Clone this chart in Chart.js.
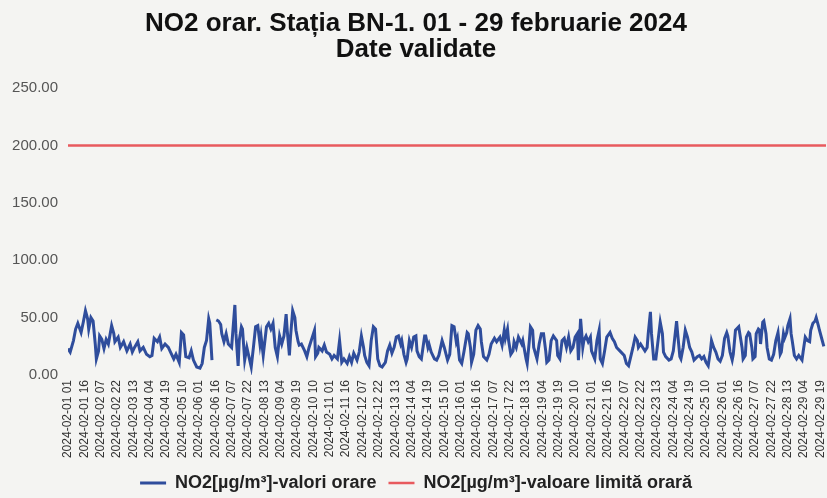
<!DOCTYPE html>
<html>
<head>
<meta charset="utf-8">
<script src="https://cdn.jsdelivr.net/npm/chart.js@4.4.1/dist/chart.umd.min.js"></script>
<style>
  body { margin: 0; background: #f4f4f2; }
  canvas { display: block; }
</style>
</head>
<body>
<canvas id="no2" width="827" height="498"></canvas>
<script>
// hours counted from 2024-02-01 01 (index 0), one step = 1 hour
const hours = [
  0, 2, 5, 7, 9, 12, 14, 16, 18, 19, 21, 23, 25, 26, 28, 29, 31, 33, 35, 37,
  40, 42, 43, 46, 48, 51, 54, 57, 59, 61, 64, 66, 69, 72, 75, 77, 79, 82, 84, 86,
  89, 92, 94, 97, 99, 102, 104, 106, 108, 111, 113, 115, 118, 121, 123, 125, 127, 129, 130, 132,
  133, 136, 138, 140, 141, 143, 145, 147, 150, 153, 154, 156, 157, 159, 160, 162, 164, 168, 170, 172,
  174, 176, 177, 179, 182, 184, 186, 188, 190, 192, 194, 196, 198, 200, 201, 203, 204, 206, 208, 209,
  211, 212, 214, 217, 219, 221, 224, 226, 227, 229, 230, 233, 235, 237, 240, 242, 244, 247, 249, 251,
  253, 256, 258, 260, 262, 265, 267, 269, 271, 272, 274, 276, 278, 280, 282, 283, 284, 286, 288, 291,
  293, 295, 297, 299, 301, 303, 305, 306, 308, 310, 311, 313, 315, 317, 319, 320, 322, 324, 327, 328,
  330, 331, 333, 336, 338, 340, 343, 345, 348, 350, 352, 354, 356, 357, 359, 361, 363, 366, 367, 369,
  370, 372, 374, 376, 378, 379, 381, 384, 386, 388, 391, 393, 396, 398, 400, 401, 403, 404, 406, 408,
  409, 411, 413, 416, 417, 420, 421, 423, 424, 426, 427, 430, 432, 434, 436, 438, 439, 441, 443, 445,
  448, 449, 451, 453, 455, 457, 459, 461, 463, 465, 467, 468, 470, 471, 472, 473, 475, 477, 479, 480,
  483, 485, 487, 488, 490, 492, 494, 497, 499, 501, 503, 506, 510, 512, 514, 516, 518, 520, 522, 523,
  525, 527, 529, 531, 532, 534, 535, 537, 539, 541, 543, 545, 546, 548, 551, 553, 555, 558, 559, 561,
  562, 564, 566, 568, 570, 572, 574, 577, 579, 581, 583, 585, 587, 589, 590, 592, 594, 596, 598, 600,
  602, 604, 605, 607, 609, 610, 612, 615, 616, 618, 619, 621, 622, 624, 625, 627, 628, 630, 631, 633,
  634, 635, 637, 638, 640, 641, 643, 645, 647, 649, 651, 653, 654, 656, 657, 659, 660, 662, 663, 664,
  666, 668, 670, 673, 674, 676, 678, 680, 681, 683, 685, 686, 688, 689, 691, 693
];

// NO2 hourly values, µg/m³ (null = missing hours)
const no2Values = [
  23, 20, 30, 40, 45, 37, 46, 56, 49, 40, 50, 47, 27, 14, 21, 34, 31, 23, 31, 27,
  43, 36, 29, 33, 24, 29, 21, 27, 20, 24, 29, 21, 24, 18, 16, 17, 32, 29, 33, 23,
  27, 24, 20, 14, 18, 11, 37, 35, 16, 15, 21, 13, 7, 6, 10, 24, 30, 49, 45, 13,
  null, 48, 47, 44, 36, 29, 36, 27, 24, 61, 36, 8, 30, 42, 40, 13, 24, 7, 24, 42,
  43, 27, 34, 17, 42, 45, 40, 45, 24, 16, 34, 27, 34, 53, 39, 17, 33, 56, 50, 39,
  29, 26, 27, 21, 16, 24, 33, 39, 16, 19, 24, 21, 26, 20, 18, 14, 17, 14, 30, 11,
  14, 10, 16, 11, 19, 13, 20, 34, 24, 17, 11, 8, 30, 42, 40, 27, 14, 8, 7, 11,
  21, 26, 19, 24, 33, 34, 27, 30, 18, 11, 14, 30, 24, 33, 34, 21, 16, 14, 34, 34,
  24, 27, 20, 14, 13, 17, 30, 24, 13, 18, 43, 42, 29, 32, 13, 10, 20, 37, 36, 24,
  11, 18, 39, 43, 40, 29, 16, 13, 18, 27, 32, 29, 33, 26, 39, 32, 40, 30, 18, 21,
  29, 24, 33, 27, 30, 14, 10, 30, 42, 39, 24, 14, 27, 36, 36, 21, 11, 13, 30, 34,
  30, 17, 14, 30, 32, 24, 33, 21, 24, 33, 36, 13, 49, 37, 24, 30, 34, 29, 33, 21,
  14, 30, 39, 14, 10, 21, 33, 37, 32, 29, 24, 21, 17, 10, 8, 16, 24, 33, 30, 24,
  27, 24, 21, 24, 36, 55, 36, 14, 14, 30, 46, 36, 20, 16, 13, 14, 21, 47, 36, 16,
  14, 24, 39, 33, 24, 20, 13, 16, 17, 14, 16, 11, 8, 21, 30, 24, 20, 14, 12, 17,
  32, 37, 34, 20, 13, 18, 39, 42, 36, 24, 14, 17, 33, 37, 36, 24, 14, 16, 36, 40,
  39, 27, 46, 47, 36, 24, 14, 13, 18, 30, 37, 18, 20, 36, 32, 37, 43, 49, 36, 30,
  17, 14, 17, 13, 20, 33, 30, 29, 39, 45, 47, 50, 43, 39, 32, 25
];

// hourly limit value
const limitHours = [0, 695];
const limitValues = [200, 200];

// x tick labels, every 15 hours
const tickLabels = [
  "2024-02-01 01", "2024-02-01 16", "2024-02-02 07", "2024-02-02 22", "2024-02-03 13",
  "2024-02-04 04", "2024-02-04 19", "2024-02-05 10", "2024-02-06 01", "2024-02-06 16",
  "2024-02-07 07", "2024-02-07 22", "2024-02-08 13", "2024-02-09 04", "2024-02-09 19",
  "2024-02-10 10", "2024-02-11 01", "2024-02-11 16", "2024-02-12 07", "2024-02-12 22",
  "2024-02-13 13", "2024-02-14 04", "2024-02-14 19", "2024-02-15 10", "2024-02-16 01",
  "2024-02-16 16", "2024-02-17 07", "2024-02-17 22", "2024-02-18 13", "2024-02-19 04",
  "2024-02-19 19", "2024-02-20 10", "2024-02-21 01", "2024-02-21 16", "2024-02-22 07",
  "2024-02-22 22", "2024-02-23 13", "2024-02-24 04", "2024-02-24 19", "2024-02-25 10",
  "2024-02-26 01", "2024-02-26 16", "2024-02-27 07", "2024-02-27 22", "2024-02-28 13",
  "2024-02-29 04", "2024-02-29 19"
];
const tickStep = 15;

const yTicks = [0, 50, 100, 150, 200, 250];

Chart.defaults.font.family = "'Liberation Sans', Arial, sans-serif";

new Chart(document.getElementById("no2"), {
  type: "line",
  data: {
    datasets: [
      {
        label: "NO2[µg/m³]-valori orare",
        data: hours.map((h, i) => ({ x: h, y: no2Values[i] })),
        borderColor: "#2f4d9c",
        backgroundColor: "#2f4d9c",
        borderWidth: 3,
        pointRadius: 0,
        spanGaps: false,
      },
      {
        label: "NO2[µg/m³]-valoare limită orară",
        data: limitHours.map((h, i) => ({ x: h, y: limitValues[i] })),
        borderColor: "#e85a5e",
        backgroundColor: "#e85a5e",
        borderWidth: 2.5,
        pointRadius: 0,
      },
    ],
  },
  options: {
    responsive: false,
    animation: false,
    devicePixelRatio: 1,
    layout: { padding: { left: 6, right: 1, top: 11, bottom: -4 } },
    plugins: {
      title: {
        display: true,
        text: ["NO2 orar. Stația BN-1. 01 - 29 februarie 2024", "Date validate"],
        color: "#111",
        font: { size: 26, weight: "bold", lineHeight: 1.0 },
        padding: { top: 0, bottom: 25 },
      },
      legend: {
        position: "bottom",
        labels: {
          usePointStyle: true,
          pointStyle: "line",
          pointStyleWidth: 26,
          color: "#222",
          font: { size: 18, weight: "bold" },
          padding: 12,
        },
      },
      tooltip: { enabled: false },
    },
    scales: {
      x: {
        type: "linear",
        min: 0,
        max: 695,
        afterBuildTicks: (axis) => {
          axis.ticks = tickLabels.map((_, i) => ({ value: i * tickStep }));
        },
        afterFit: (scale) => {
          scale.height = 87;
          scale.paddingRight = 0;
        },
        ticks: {
          autoSkip: false,
          minRotation: 90,
          maxRotation: 90,
          color: "#333",
          font: { size: 12 },
          padding: 5,
          callback: (v) => tickLabels[Math.round(v / tickStep)],
        },
        grid: { display: false, drawTicks: false },
        border: { display: false },
      },
      y: {
        min: 0,
        max: 250,
        afterBuildTicks: (axis) => {
          axis.ticks = yTicks.map((v) => ({ value: v }));
        },
        afterFit: (scale) => {
          scale.width = 62;
        },
        ticks: {
          color: "#555",
          font: { size: 15 },
          padding: 10,
          callback: (v) => v.toFixed(2),
        },
        grid: { display: false, drawTicks: false },
        border: { display: false },
      },
    },
  },
});
</script>
</body>
</html>
